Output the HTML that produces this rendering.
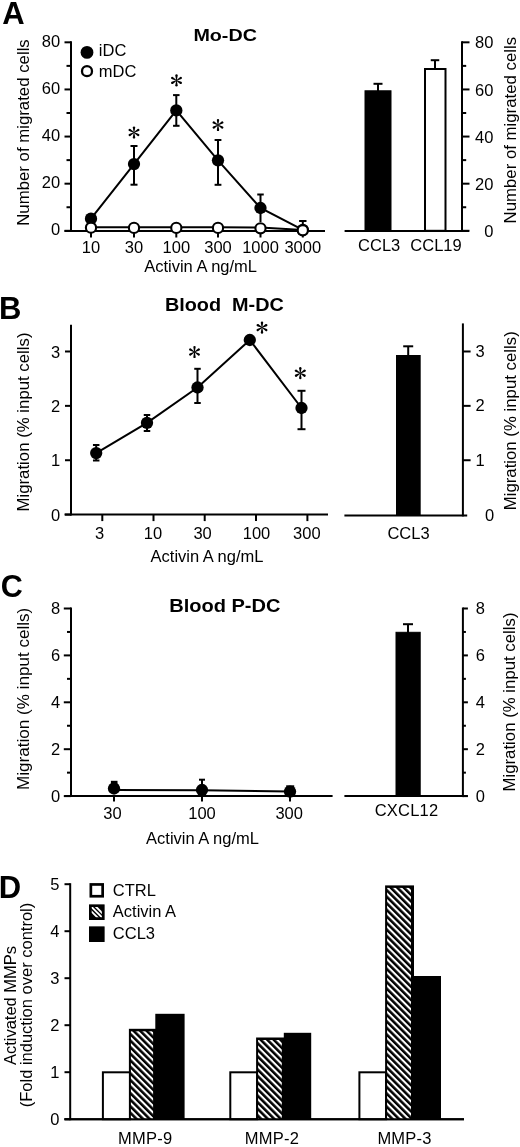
<!DOCTYPE html>
<html><head><meta charset="utf-8"><title>Figure</title>
<style>
html,body{margin:0;padding:0;background:#fff;}
body{width:520px;height:1147px;overflow:hidden;}
svg{display:block;will-change:transform;filter:blur(0.3px);}
text{font-family:"Liberation Sans",sans-serif;fill:#000;stroke:none;}
</style></head>
<body>
<svg width="520" height="1147" viewBox="0 0 520 1147">
<defs>
<g id="ast" fill="#000" stroke="none"><path d="M -0.3 0 L -1.2 -4.9 A 1.2 1.2 0 0 1 1.2 -4.9 L 0.3 0 Z" transform="rotate(0)"/><path d="M -0.3 0 L -1.2 -4.9 A 1.2 1.2 0 0 1 1.2 -4.9 L 0.3 0 Z" transform="rotate(60)"/><path d="M -0.3 0 L -1.2 -4.9 A 1.2 1.2 0 0 1 1.2 -4.9 L 0.3 0 Z" transform="rotate(120)"/><path d="M -0.3 0 L -1.2 -4.9 A 1.2 1.2 0 0 1 1.2 -4.9 L 0.3 0 Z" transform="rotate(180)"/><path d="M -0.3 0 L -1.2 -4.9 A 1.2 1.2 0 0 1 1.2 -4.9 L 0.3 0 Z" transform="rotate(240)"/><path d="M -0.3 0 L -1.2 -4.9 A 1.2 1.2 0 0 1 1.2 -4.9 L 0.3 0 Z" transform="rotate(300)"/></g>
<pattern id="hatch" patternUnits="userSpaceOnUse" width="4.64" height="4.64" patternTransform="rotate(-45)">
<rect x="0" y="0" width="4.64" height="4.64" fill="#fff" stroke="none"/><rect x="0" y="0" width="2.55" height="4.64" fill="#000" stroke="none"/>
</pattern>
<pattern id="hatchL" patternUnits="userSpaceOnUse" width="3.1" height="3.1" patternTransform="rotate(-45)">
<rect x="0" y="0" width="3.1" height="3.1" fill="#fff" stroke="none"/><rect x="0" y="0" width="1.6" height="3.1" fill="#000" stroke="none"/>
</pattern>
</defs>
<rect width="520" height="1147" fill="#fff"/>
<g stroke="#000" stroke-linecap="butt">
<text x="2.20" y="23.50" font-size="31" text-anchor="start" font-weight="bold" >A</text>
<text x="193.40" y="40.80" font-size="17.2" text-anchor="start" font-weight="bold" textLength="63.5" lengthAdjust="spacingAndGlyphs">Mo-DC</text>
<line x1="71.00" y1="41.32" x2="71.00" y2="231.80" stroke-width="2.0"/>
<line x1="64.50" y1="42.32" x2="71.00" y2="42.32" stroke-width="2.0"/>
<line x1="64.50" y1="89.44" x2="71.00" y2="89.44" stroke-width="2.0"/>
<line x1="64.50" y1="136.56" x2="71.00" y2="136.56" stroke-width="2.0"/>
<line x1="64.50" y1="183.68" x2="71.00" y2="183.68" stroke-width="2.0"/>
<line x1="64.50" y1="230.80" x2="71.00" y2="230.80" stroke-width="2.0"/>
<line x1="66.50" y1="65.88" x2="71.00" y2="65.88" stroke-width="2.0"/>
<line x1="66.50" y1="113.00" x2="71.00" y2="113.00" stroke-width="2.0"/>
<line x1="66.50" y1="160.12" x2="71.00" y2="160.12" stroke-width="2.0"/>
<line x1="66.50" y1="207.24" x2="71.00" y2="207.24" stroke-width="2.0"/>
<text x="60.20" y="46.92" font-size="16.5" text-anchor="end" >80</text>
<text x="60.20" y="94.04" font-size="16.5" text-anchor="end" >60</text>
<text x="60.20" y="141.16" font-size="16.5" text-anchor="end" >40</text>
<text x="60.20" y="188.28" font-size="16.5" text-anchor="end" >20</text>
<text x="60.20" y="235.40" font-size="16.5" text-anchor="end" >0</text>
<line x1="64.50" y1="231.00" x2="325.00" y2="231.00" stroke-width="2.0"/>
<line x1="91.00" y1="231.00" x2="91.00" y2="237.50" stroke-width="2.0"/>
<text x="91.00" y="252.60" font-size="16.5" text-anchor="middle" >10</text>
<line x1="134.00" y1="231.00" x2="134.00" y2="237.50" stroke-width="2.0"/>
<text x="134.00" y="252.60" font-size="16.5" text-anchor="middle" >30</text>
<line x1="176.30" y1="231.00" x2="176.30" y2="237.50" stroke-width="2.0"/>
<text x="176.30" y="252.60" font-size="16.5" text-anchor="middle" >100</text>
<line x1="218.00" y1="231.00" x2="218.00" y2="237.50" stroke-width="2.0"/>
<text x="218.00" y="252.60" font-size="16.5" text-anchor="middle" >300</text>
<line x1="260.50" y1="231.00" x2="260.50" y2="237.50" stroke-width="2.0"/>
<text x="260.50" y="252.60" font-size="16.5" text-anchor="middle" >1000</text>
<line x1="302.80" y1="231.00" x2="302.80" y2="237.50" stroke-width="2.0"/>
<text x="302.80" y="252.60" font-size="16.5" text-anchor="middle" >3000</text>
<text x="200.60" y="271.50" font-size="16.5" text-anchor="middle" >Activin A ng/mL</text>
<text transform="translate(29.00,132.50) rotate(-90)" font-size="16.8" text-anchor="middle" >Number of migrated cells</text>
<line x1="134.00" y1="146.00" x2="134.00" y2="184.70" stroke-width="2.0"/>
<line x1="130.50" y1="146.00" x2="137.50" y2="146.00" stroke-width="2.0"/>
<line x1="130.50" y1="184.70" x2="137.50" y2="184.70" stroke-width="2.0"/>
<line x1="176.30" y1="95.10" x2="176.30" y2="125.80" stroke-width="2.0"/>
<line x1="173.05" y1="95.10" x2="179.55" y2="95.10" stroke-width="2.0"/>
<line x1="173.05" y1="125.80" x2="179.55" y2="125.80" stroke-width="2.0"/>
<line x1="218.00" y1="140.00" x2="218.00" y2="184.80" stroke-width="2.0"/>
<line x1="214.60" y1="140.00" x2="221.40" y2="140.00" stroke-width="2.0"/>
<line x1="214.60" y1="184.80" x2="221.40" y2="184.80" stroke-width="2.0"/>
<line x1="260.50" y1="194.50" x2="260.50" y2="222.00" stroke-width="2.0"/>
<line x1="257.25" y1="194.50" x2="263.75" y2="194.50" stroke-width="2.0"/>
<line x1="302.80" y1="221.00" x2="302.80" y2="229.00" stroke-width="2.0"/>
<line x1="299.10" y1="221.00" x2="306.50" y2="221.00" stroke-width="2.0"/>
<polyline fill="none" stroke-width="2" points="91.00,218.70 134.00,164.10 176.30,110.40 218.00,160.30 260.50,208.00 302.80,229.80"/>
<circle cx="91.00" cy="218.70" r="6.15" fill="#000" stroke="none"/>
<circle cx="134.00" cy="164.10" r="6.15" fill="#000" stroke="none"/>
<circle cx="176.30" cy="110.40" r="6.15" fill="#000" stroke="none"/>
<circle cx="218.00" cy="160.30" r="6.15" fill="#000" stroke="none"/>
<circle cx="260.50" cy="208.00" r="6.15" fill="#000" stroke="none"/>
<circle cx="302.80" cy="229.80" r="6.15" fill="#000" stroke="none"/>
<polyline fill="none" stroke-width="2" points="91.00,227.20 134.00,227.20 176.30,227.20 218.00,227.20 260.50,227.60 302.80,230.00"/>
<circle cx="91.00" cy="227.70" r="5.10" fill="#fff" stroke="#000" stroke-width="2.1"/>
<circle cx="134.00" cy="227.90" r="5.10" fill="#fff" stroke="#000" stroke-width="2.1"/>
<circle cx="176.30" cy="227.90" r="5.10" fill="#fff" stroke="#000" stroke-width="2.1"/>
<circle cx="218.00" cy="227.90" r="5.10" fill="#fff" stroke="#000" stroke-width="2.1"/>
<circle cx="260.50" cy="228.30" r="5.10" fill="#fff" stroke="#000" stroke-width="2.1"/>
<circle cx="302.80" cy="230.30" r="5.10" fill="#fff" stroke="#000" stroke-width="2.1"/>
<use href="#ast" transform="translate(134.00,132.50) scale(1.0)"/>
<use href="#ast" transform="translate(176.50,80.40) scale(1.0)"/>
<use href="#ast" transform="translate(218.00,125.00) scale(1.0)"/>
<circle cx="87.00" cy="52.40" r="6.40" fill="#000" stroke="none"/>
<circle cx="87.00" cy="71.20" r="5.00" fill="#fff" stroke="#000" stroke-width="2.3"/>
<text x="98.80" y="55.90" font-size="16.5" text-anchor="start" >iDC</text>
<text x="98.80" y="77.00" font-size="16.5" text-anchor="start" >mDC</text>
<line x1="462.00" y1="41.32" x2="462.00" y2="231.80" stroke-width="2.0"/>
<line x1="462.00" y1="42.32" x2="469.50" y2="42.32" stroke-width="2.0"/>
<line x1="462.00" y1="89.44" x2="469.50" y2="89.44" stroke-width="2.0"/>
<line x1="462.00" y1="136.56" x2="469.50" y2="136.56" stroke-width="2.0"/>
<line x1="462.00" y1="183.68" x2="469.50" y2="183.68" stroke-width="2.0"/>
<line x1="462.00" y1="230.80" x2="469.50" y2="230.80" stroke-width="2.0"/>
<line x1="462.00" y1="65.88" x2="466.20" y2="65.88" stroke-width="2.0"/>
<line x1="462.00" y1="113.00" x2="466.20" y2="113.00" stroke-width="2.0"/>
<line x1="462.00" y1="160.12" x2="466.20" y2="160.12" stroke-width="2.0"/>
<line x1="462.00" y1="207.24" x2="466.20" y2="207.24" stroke-width="2.0"/>
<text x="493.40" y="48.42" font-size="16.5" text-anchor="end" >80</text>
<text x="493.40" y="95.54" font-size="16.5" text-anchor="end" >60</text>
<text x="493.40" y="142.66" font-size="16.5" text-anchor="end" >40</text>
<text x="493.40" y="189.78" font-size="16.5" text-anchor="end" >20</text>
<text x="493.40" y="236.90" font-size="16.5" text-anchor="end" >0</text>
<line x1="344.60" y1="231.00" x2="469.00" y2="231.00" stroke-width="2.0"/>
<rect x="365" y="90.8" width="26" height="140.00" fill="#000"/>
<line x1="378.00" y1="83.80" x2="378.00" y2="91.00" stroke-width="2.0"/>
<line x1="373.50" y1="83.80" x2="382.50" y2="83.80" stroke-width="2.0"/>
<rect x="425" y="69" width="20.5" height="161.80" fill="#fff" stroke="#000" stroke-width="2"/>
<line x1="435.00" y1="60.20" x2="435.00" y2="68.00" stroke-width="2.0"/>
<line x1="430.75" y1="60.20" x2="439.25" y2="60.20" stroke-width="2.0"/>
<text x="379.20" y="250.50" font-size="16.5" text-anchor="middle" >CCL3</text>
<text x="436.00" y="250.50" font-size="16.5" text-anchor="middle" >CCL19</text>
<text transform="translate(516.00,130.20) rotate(-90)" font-size="16.8" text-anchor="middle" >Number of migrated cells</text>
<text x="-1.00" y="318.50" font-size="31" text-anchor="start" font-weight="bold" >B</text>
<text x="164.90" y="310.80" font-size="18.5" text-anchor="start" font-weight="bold" textLength="119" lengthAdjust="spacingAndGlyphs">Blood&#160; M-DC</text>
<line x1="71.00" y1="324.80" x2="71.00" y2="515.60" stroke-width="2.0"/>
<line x1="65.00" y1="351.49" x2="71.00" y2="351.49" stroke-width="2.0"/>
<line x1="65.00" y1="405.86" x2="71.00" y2="405.86" stroke-width="2.0"/>
<line x1="65.00" y1="460.23" x2="71.00" y2="460.23" stroke-width="2.0"/>
<line x1="65.00" y1="514.60" x2="71.00" y2="514.60" stroke-width="2.0"/>
<text x="60.20" y="357.69" font-size="16.5" text-anchor="end" >3</text>
<text x="60.20" y="412.06" font-size="16.5" text-anchor="end" >2</text>
<text x="60.20" y="466.43" font-size="16.5" text-anchor="end" >1</text>
<text x="60.20" y="520.80" font-size="16.5" text-anchor="end" >0</text>
<line x1="64.50" y1="514.60" x2="328.00" y2="514.60" stroke-width="2.0"/>
<line x1="102.30" y1="514.60" x2="102.30" y2="521.10" stroke-width="2.0"/>
<text x="99.60" y="538.50" font-size="16.5" text-anchor="middle" >3</text>
<line x1="153.50" y1="514.60" x2="153.50" y2="521.10" stroke-width="2.0"/>
<text x="153.00" y="538.50" font-size="16.5" text-anchor="middle" >10</text>
<line x1="204.70" y1="514.60" x2="204.70" y2="521.10" stroke-width="2.0"/>
<text x="202.60" y="538.50" font-size="16.5" text-anchor="middle" >30</text>
<line x1="256.00" y1="514.60" x2="256.00" y2="521.10" stroke-width="2.0"/>
<text x="256.50" y="538.50" font-size="16.5" text-anchor="middle" >100</text>
<line x1="307.40" y1="514.60" x2="307.40" y2="521.10" stroke-width="2.0"/>
<text x="306.80" y="538.50" font-size="16.5" text-anchor="middle" >300</text>
<text x="207.00" y="562.30" font-size="16.5" text-anchor="middle" >Activin A ng/mL</text>
<text transform="translate(29.00,422.00) rotate(-90)" font-size="16.8" text-anchor="middle" >Migration (% input cells)</text>
<line x1="96.20" y1="445.00" x2="96.20" y2="460.50" stroke-width="2.0"/>
<line x1="92.95" y1="445.00" x2="99.45" y2="445.00" stroke-width="2.0"/>
<line x1="92.95" y1="460.50" x2="99.45" y2="460.50" stroke-width="2.0"/>
<line x1="147.00" y1="415.00" x2="147.00" y2="431.00" stroke-width="2.0"/>
<line x1="143.75" y1="415.00" x2="150.25" y2="415.00" stroke-width="2.0"/>
<line x1="143.75" y1="431.00" x2="150.25" y2="431.00" stroke-width="2.0"/>
<line x1="197.50" y1="368.80" x2="197.50" y2="403.00" stroke-width="2.0"/>
<line x1="194.25" y1="368.80" x2="200.75" y2="368.80" stroke-width="2.0"/>
<line x1="194.25" y1="403.00" x2="200.75" y2="403.00" stroke-width="2.0"/>
<line x1="301.50" y1="390.80" x2="301.50" y2="429.20" stroke-width="2.0"/>
<line x1="297.50" y1="390.80" x2="305.50" y2="390.80" stroke-width="2.0"/>
<line x1="297.50" y1="429.20" x2="305.50" y2="429.20" stroke-width="2.0"/>
<polyline fill="none" stroke-width="2" points="96.20,453.10 147.00,422.80 197.50,387.50 249.80,340.00 301.50,408.00"/>
<circle cx="96.20" cy="453.10" r="6.15" fill="#000" stroke="none"/>
<circle cx="147.00" cy="422.80" r="6.15" fill="#000" stroke="none"/>
<circle cx="197.50" cy="387.50" r="6.15" fill="#000" stroke="none"/>
<circle cx="249.80" cy="340.00" r="6.15" fill="#000" stroke="none"/>
<circle cx="301.50" cy="408.00" r="6.15" fill="#000" stroke="none"/>
<use href="#ast" transform="translate(194.50,352.00) scale(1.0)"/>
<use href="#ast" transform="translate(262.00,327.60) scale(1.0)"/>
<use href="#ast" transform="translate(300.30,373.20) scale(1.0)"/>
<line x1="462.90" y1="323.40" x2="462.90" y2="516.40" stroke-width="2.0"/>
<line x1="462.90" y1="351.49" x2="470.60" y2="351.49" stroke-width="2.0"/>
<line x1="462.90" y1="405.86" x2="470.60" y2="405.86" stroke-width="2.0"/>
<line x1="462.90" y1="460.23" x2="470.60" y2="460.23" stroke-width="2.0"/>
<text x="484.70" y="356.89" font-size="16.5" text-anchor="end" >3</text>
<text x="484.70" y="411.26" font-size="16.5" text-anchor="end" >2</text>
<text x="484.70" y="465.63" font-size="16.5" text-anchor="end" >1</text>
<text x="494.30" y="520.60" font-size="16.5" text-anchor="end" >0</text>
<line x1="344.40" y1="515.50" x2="467.20" y2="515.50" stroke-width="2.0"/>
<rect x="396" y="355" width="24.7" height="160.50" fill="#000" stroke="none"/>
<line x1="408.20" y1="346.30" x2="408.20" y2="356.00" stroke-width="2.0"/>
<line x1="403.20" y1="346.30" x2="413.20" y2="346.30" stroke-width="2.0"/>
<text x="408.50" y="539.00" font-size="16.5" text-anchor="middle" >CCL3</text>
<text transform="translate(515.80,420.80) rotate(-90)" font-size="16.8" text-anchor="middle" >Migration (% input cells)</text>
<text x="0.70" y="597.30" font-size="30.535" text-anchor="start" font-weight="bold" >C</text>
<text x="169.20" y="612.00" font-size="18" text-anchor="start" font-weight="bold" textLength="111.3" lengthAdjust="spacingAndGlyphs">Blood P-DC</text>
<line x1="71.00" y1="607.50" x2="71.00" y2="797.10" stroke-width="2.0"/>
<line x1="63.80" y1="608.50" x2="71.00" y2="608.50" stroke-width="2.0"/>
<line x1="63.80" y1="655.40" x2="71.00" y2="655.40" stroke-width="2.0"/>
<line x1="63.80" y1="702.30" x2="71.00" y2="702.30" stroke-width="2.0"/>
<line x1="63.80" y1="749.20" x2="71.00" y2="749.20" stroke-width="2.0"/>
<line x1="63.80" y1="796.10" x2="71.00" y2="796.10" stroke-width="2.0"/>
<line x1="67.00" y1="631.95" x2="71.00" y2="631.95" stroke-width="2.0"/>
<line x1="67.00" y1="678.85" x2="71.00" y2="678.85" stroke-width="2.0"/>
<line x1="67.00" y1="725.75" x2="71.00" y2="725.75" stroke-width="2.0"/>
<line x1="67.00" y1="772.65" x2="71.00" y2="772.65" stroke-width="2.0"/>
<text x="60.20" y="614.30" font-size="16.5" text-anchor="end" >8</text>
<text x="60.20" y="661.20" font-size="16.5" text-anchor="end" >6</text>
<text x="60.20" y="708.10" font-size="16.5" text-anchor="end" >4</text>
<text x="60.20" y="755.00" font-size="16.5" text-anchor="end" >2</text>
<text x="60.20" y="801.90" font-size="16.5" text-anchor="end" >0</text>
<line x1="64.50" y1="796.10" x2="332.60" y2="796.10" stroke-width="2.0"/>
<line x1="114.00" y1="796.10" x2="114.00" y2="801.60" stroke-width="2.0"/>
<text x="112.40" y="819.00" font-size="16.5" text-anchor="middle" >30</text>
<line x1="202.00" y1="796.10" x2="202.00" y2="801.60" stroke-width="2.0"/>
<text x="202.00" y="819.00" font-size="16.5" text-anchor="middle" >100</text>
<line x1="290.00" y1="796.10" x2="290.00" y2="801.60" stroke-width="2.0"/>
<text x="289.20" y="819.00" font-size="16.5" text-anchor="middle" >300</text>
<text x="202.50" y="843.60" font-size="16.5" text-anchor="middle" >Activin A ng/mL</text>
<text transform="translate(29.00,698.90) rotate(-90)" font-size="17.1" text-anchor="middle" >Migration (% input cells)</text>
<rect x="110.90" y="780.8" width="6.6" height="6" fill="#000" stroke="none"/>
<line x1="202.00" y1="779.70" x2="202.00" y2="790.00" stroke-width="2.0"/>
<line x1="199.00" y1="779.70" x2="205.00" y2="779.70" stroke-width="2.0"/>
<rect x="286.20" y="785.3" width="8" height="5" fill="#000" stroke="none"/>
<polyline fill="none" stroke-width="2" points="114.00,790.10 202.00,790.20 290.00,791.60"/>
<circle cx="114.00" cy="788.50" r="6.15" fill="#000" stroke="none"/>
<circle cx="202.00" cy="790.00" r="6.15" fill="#000" stroke="none"/>
<circle cx="290.00" cy="791.60" r="6.15" fill="#000" stroke="none"/>
<line x1="462.90" y1="607.50" x2="462.90" y2="797.10" stroke-width="2.0"/>
<line x1="462.90" y1="608.50" x2="467.90" y2="608.50" stroke-width="2.0"/>
<line x1="462.90" y1="655.40" x2="467.90" y2="655.40" stroke-width="2.0"/>
<line x1="462.90" y1="702.30" x2="467.90" y2="702.30" stroke-width="2.0"/>
<line x1="462.90" y1="749.20" x2="467.90" y2="749.20" stroke-width="2.0"/>
<line x1="462.90" y1="796.10" x2="467.90" y2="796.10" stroke-width="2.0"/>
<line x1="462.90" y1="631.95" x2="465.90" y2="631.95" stroke-width="2.0"/>
<line x1="462.90" y1="678.85" x2="465.90" y2="678.85" stroke-width="2.0"/>
<line x1="462.90" y1="725.75" x2="465.90" y2="725.75" stroke-width="2.0"/>
<line x1="462.90" y1="772.65" x2="465.90" y2="772.65" stroke-width="2.0"/>
<text x="484.90" y="614.30" font-size="16.5" text-anchor="end" >8</text>
<text x="484.90" y="661.20" font-size="16.5" text-anchor="end" >6</text>
<text x="484.90" y="708.10" font-size="16.5" text-anchor="end" >4</text>
<text x="484.90" y="755.00" font-size="16.5" text-anchor="end" >2</text>
<text x="484.90" y="801.90" font-size="16.5" text-anchor="end" >0</text>
<line x1="344.40" y1="796.10" x2="467.70" y2="796.10" stroke-width="2.0"/>
<rect x="396" y="632.3" width="24.2" height="163.80" fill="#000"/>
<line x1="408.00" y1="624.20" x2="408.00" y2="633.00" stroke-width="2.0"/>
<line x1="403.00" y1="624.20" x2="413.00" y2="624.20" stroke-width="2.0"/>
<text x="406.50" y="815.60" font-size="16.5" text-anchor="middle" letter-spacing="0.2">CXCL12</text>
<text transform="translate(515.30,702.00) rotate(-90)" font-size="16.8" text-anchor="middle" >Migration (% input cells)</text>
<text x="-1.30" y="897.80" font-size="31" text-anchor="start" font-weight="bold" >D</text>
<line x1="70.20" y1="883.20" x2="70.20" y2="1120.20" stroke-width="2.0"/>
<line x1="64.50" y1="884.20" x2="70.20" y2="884.20" stroke-width="2.0"/>
<line x1="64.50" y1="931.20" x2="70.20" y2="931.20" stroke-width="2.0"/>
<line x1="64.50" y1="978.20" x2="70.20" y2="978.20" stroke-width="2.0"/>
<line x1="64.50" y1="1025.20" x2="70.20" y2="1025.20" stroke-width="2.0"/>
<line x1="64.50" y1="1072.20" x2="70.20" y2="1072.20" stroke-width="2.0"/>
<line x1="64.50" y1="1119.20" x2="70.20" y2="1119.20" stroke-width="2.0"/>
<text x="59.40" y="890.20" font-size="16.5" text-anchor="end" >5</text>
<text x="59.40" y="937.20" font-size="16.5" text-anchor="end" >4</text>
<text x="59.40" y="984.20" font-size="16.5" text-anchor="end" >3</text>
<text x="59.40" y="1031.20" font-size="16.5" text-anchor="end" >2</text>
<text x="59.40" y="1078.20" font-size="16.5" text-anchor="end" >1</text>
<text x="59.40" y="1125.20" font-size="16.5" text-anchor="end" >0</text>
<line x1="64.50" y1="1119.20" x2="464.00" y2="1119.20" stroke-width="2.0"/>
<text transform="translate(15.50,1005.50) rotate(-90)" font-size="16.5" text-anchor="middle" >Activated MMPs</text>
<text transform="translate(31.50,1005.00) rotate(-90)" font-size="16.5" text-anchor="middle" >(Fold induction over control)</text>
<rect x="102.90" y="1072.30" width="27.10" height="46.90" fill="#fff" stroke="#000" stroke-width="2"/>
<rect x="128.90" y="1028.80" width="27.20" height="90.40" fill="#000" stroke="none"/>
<rect x="130.90" y="1031.30" width="22.20" height="87.90" fill="url(#hatch)" stroke="none"/>
<rect x="155.30" y="1013.80" width="29.30" height="105.40" fill="#000" stroke="none"/>
<text x="145.20" y="1143.90" font-size="16.5" text-anchor="middle" letter-spacing="0.25">MMP-9</text>
<rect x="230.30" y="1072.30" width="26.90" height="46.90" fill="#fff" stroke="#000" stroke-width="2"/>
<rect x="256.10" y="1037.50" width="28.70" height="81.70" fill="#000" stroke="none"/>
<rect x="258.10" y="1040.00" width="23.70" height="79.20" fill="url(#hatch)" stroke="none"/>
<rect x="283.80" y="1032.80" width="27.40" height="86.40" fill="#000" stroke="none"/>
<text x="271.90" y="1143.90" font-size="16.5" text-anchor="middle" letter-spacing="0.25">MMP-2</text>
<rect x="359.40" y="1072.30" width="26.70" height="46.90" fill="#fff" stroke="#000" stroke-width="2"/>
<rect x="385.10" y="885.40" width="28.90" height="233.80" fill="#000" stroke="none"/>
<rect x="387.10" y="887.90" width="23.90" height="231.30" fill="url(#hatch)" stroke="none"/>
<rect x="413.20" y="976.00" width="27.80" height="143.20" fill="#000" stroke="none"/>
<text x="404.60" y="1143.90" font-size="16.5" text-anchor="middle" letter-spacing="0.25">MMP-3</text>
<line x1="64.50" y1="1119.20" x2="464.00" y2="1119.20" stroke-width="2.0"/>
<rect x="90.85" y="884.45" width="11.8" height="11.8" fill="#fff" stroke="#000" stroke-width="2.7"/>
<rect x="89.5" y="904.9" width="14.6" height="14.6" fill="#000"/>
<clipPath id="lgclip"><rect x="91.7" y="907.1" width="10.2" height="10.2"/></clipPath>
<g clip-path="url(#lgclip)" stroke="#fff" stroke-width="1.9"><line x1="84.20" y1="904.20" x2="100.20" y2="920.20"/><line x1="88.80" y1="904.20" x2="104.80" y2="920.20"/><line x1="93.40" y1="904.20" x2="109.40" y2="920.20"/></g>
<rect x="89.5" y="926.9" width="14.6" height="14.6" fill="#000"/>
<text x="112.80" y="895.80" font-size="16.5" text-anchor="start" >CTRL</text>
<text x="112.80" y="916.80" font-size="16.5" text-anchor="start" >Activin A</text>
<text x="112.80" y="938.90" font-size="16.5" text-anchor="start" >CCL3</text>
</g>
</svg>
</body></html>
